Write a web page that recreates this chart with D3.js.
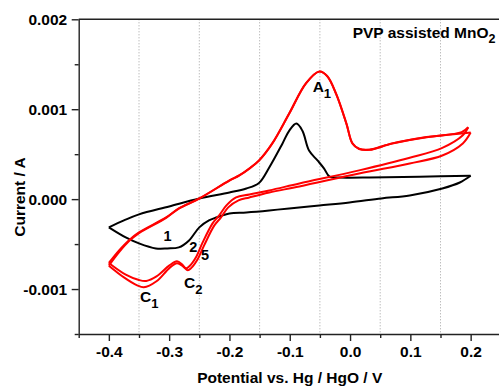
<!DOCTYPE html>
<html>
<head>
<meta charset="utf-8">
<script src="https://cdn.jsdelivr.net/npm/d3@7/dist/d3.min.js"></script>
<style>
  html, body { margin: 0; padding: 0; background: #fff; }
  svg { display: block; }
  text { font-family: "Liberation Sans", Arial, Helvetica, sans-serif; font-weight: bold; fill: #000; }
</style>
</head>
<body>
<svg id="chart" width="499" height="387"></svg>
<script>
// ---------- data ----------
const potentialTicks = [-0.4, -0.3, -0.2, -0.1, 0.0, 0.1, 0.2];
const potentialMinorTicks = [-0.45, -0.35, -0.25, -0.15, -0.05, 0.05, 0.15, 0.25];
const gridPotentials = [-0.35, -0.25, -0.15, -0.05, 0.05, 0.15];
const currentTicks = [-0.001, 0.000, 0.001, 0.002];
const currentMinorTicks = [-0.0015, -0.0005, 0.0005, 0.0015];

// Cycle 1 (black)
const cycle1AnodicE = [-0.400, -0.375, -0.350, -0.300, -0.250, -0.200, -0.172, -0.151, -0.134, -0.112, -0.101, -0.089, -0.079, -0.068, -0.054, -0.043, -0.034, -0.018, 0.032, 0.115, 0.200];
const cycle1AnodicI = [-0.000314, -0.000237, -0.000170, -0.000081, 0.000008, 0.000074, 0.000119, 0.000180, 0.000352, 0.000619, 0.000760, 0.000840, 0.000760, 0.000540, 0.000430, 0.000340, 0.000250, 0.000240, 0.000240, 0.000250, 0.000260];
const cycle1CathodicE = [0.200, 0.182, 0.153, 0.099, 0.052, -0.001, -0.051, -0.101, -0.134, -0.172, -0.200, -0.222, -0.234, -0.250, -0.267, -0.284, -0.303, -0.322, -0.350, -0.372, -0.400];
const cycle1CathodicI = [0.000260, 0.000185, 0.000119, 0.000041, 0.000008, -0.000037, -0.000070, -0.000103, -0.000126, -0.000148, -0.000159, -0.000205, -0.000237, -0.000314, -0.000459, -0.000537, -0.000548, -0.000548, -0.000492, -0.000426, -0.000314];

// Cycle 2 (red)
const cycle2AnodicE = [-0.400, -0.383, -0.367, -0.350, -0.305, -0.284, -0.250, -0.200, -0.184, -0.167, -0.151, -0.129, -0.101, -0.073, -0.051, -0.038, -0.023, -0.006, 0.004, 0.015, 0.032, 0.070, 0.127, 0.185, 0.196];
const cycle2AnodicI = [-0.000710, -0.000570, -0.000459, -0.000370, -0.000203, -0.000103, 0.000008, 0.000208, 0.000263, 0.000341, 0.000430, 0.000620, 0.000952, 0.001290, 0.001420, 0.001370, 0.001170, 0.000840, 0.000620, 0.000560, 0.000550, 0.000620, 0.000690, 0.000745, 0.000800];
const cycle2CathodicE = [0.196, 0.187, 0.153, 0.099, 0.015, -0.084, -0.134, -0.167, -0.189, -0.205, -0.217, -0.228, -0.245, -0.255, -0.267, -0.272, -0.278, -0.287, -0.300, -0.321, -0.338, -0.350, -0.372, -0.400];
const cycle2CathodicI = [0.000800, 0.000710, 0.000570, 0.000460, 0.000320, 0.000174, 0.000097, 0.000052, 0.000019, -0.000070, -0.000180, -0.000270, -0.000490, -0.000640, -0.000750, -0.000770, -0.000730, -0.000690, -0.000740, -0.000860, -0.000910, -0.000900, -0.000840, -0.000710];

// Cycle 5 (red)
const cycle5AnodicE = [-0.400, -0.383, -0.367, -0.350, -0.305, -0.284, -0.250, -0.200, -0.184, -0.167, -0.151, -0.129, -0.101, -0.073, -0.051, -0.038, -0.023, -0.006, 0.004, 0.015, 0.032, 0.070, 0.127, 0.193, 0.200];
const cycle5AnodicI = [-0.000740, -0.000590, -0.000470, -0.000378, -0.000208, -0.000106, 0.000006, 0.000206, 0.000261, 0.000339, 0.000428, 0.000618, 0.000950, 0.001288, 0.001418, 0.001368, 0.001168, 0.000838, 0.000618, 0.000558, 0.000548, 0.000618, 0.000688, 0.000735, 0.000740];
const cycle5CathodicE = [0.200, 0.187, 0.153, 0.099, 0.015, -0.084, -0.134, -0.167, -0.185, -0.202, -0.214, -0.225, -0.242, -0.252, -0.264, -0.269, -0.277, -0.287, -0.300, -0.321, -0.342, -0.353, -0.375, -0.400];
const cycle5CathodicI = [0.000740, 0.000619, 0.000485, 0.000397, 0.000286, 0.000141, 0.000074, 0.000019, -0.000014, -0.000092, -0.000203, -0.000292, -0.000514, -0.000659, -0.000770, -0.000792, -0.000748, -0.000714, -0.000770, -0.000914, -0.000981, -0.000959, -0.000870, -0.000740];

const seriesColors = { cycle1: "#000000", cycle2: "#ff0000", cycle5: "#ff0000" };

// ---------- layout ----------
const svg = d3.select("#chart");
const x = d3.scaleLinear().domain([-0.45, 0.25]).range([78.7, 500.8]);
const y = d3.scaleLinear().domain([-0.0015, 0.002]).range([334, 19.3]);
const axisColor = "#222";

// grid
svg.append("g").selectAll("line").data(gridPotentials).join("line")
  .attr("x1", d => x(d)).attr("x2", d => x(d))
  .attr("y1", y(0.002)).attr("y2", y(-0.0015))
  .attr("stroke", "#8a8a8a").attr("stroke-width", 0.8).attr("stroke-dasharray", "1,2");

// curves
const line = d3.line().x(d => x(d[0])).y(d => y(d[1])).curve(d3.curveCatmullRom.alpha(0.5));
const zip = (a, b) => a.map((v, i) => [v, b[i]]);
const sweeps = [
  { key: "cycle1", pts: zip(cycle1AnodicE, cycle1AnodicI) },
  { key: "cycle1", pts: zip(cycle1CathodicE, cycle1CathodicI) },
  { key: "cycle2", pts: zip(cycle2AnodicE, cycle2AnodicI) },
  { key: "cycle2", pts: zip(cycle2CathodicE, cycle2CathodicI) },
  { key: "cycle5", pts: zip(cycle5AnodicE, cycle5AnodicI) },
  { key: "cycle5", pts: zip(cycle5CathodicE, cycle5CathodicI) }
];
svg.append("g").selectAll("path").data(sweeps).join("path")
  .attr("d", d => line(d.pts))
  .attr("fill", "none")
  .attr("stroke", d => seriesColors[d.key])
  .attr("stroke-width", 2)
  .attr("stroke-linejoin", "round");

// axes
const fmtX = d => d.toFixed(1);
const fmtY = d => d.toFixed(3);
function styleAxis(g) {
  g.selectAll("path, line").attr("stroke", axisColor).attr("stroke-width", 1.4);
  g.selectAll("text").attr("font-size", "15.5px").attr("font-weight", "bold")
    .attr("font-family", "Liberation Sans, Arial, sans-serif").attr("fill", "#000");
}
svg.append("g").attr("transform", `translate(0,${y(-0.0015)})`)
  .call(d3.axisBottom(x).tickValues(potentialTicks).tickFormat(fmtX).tickSize(7).tickPadding(5).tickSizeOuter(0))
  .call(styleAxis);
svg.append("g").attr("transform", `translate(0,${y(-0.0015)})`)
  .call(d3.axisBottom(x).tickValues(potentialMinorTicks).tickFormat("").tickSize(4).tickSizeOuter(0))
  .call(g => g.select(".domain").remove())
  .call(styleAxis);
svg.append("g").attr("transform", `translate(${x(-0.45)},0)`)
  .call(d3.axisLeft(y).tickValues(currentTicks).tickFormat(fmtY).tickSize(7).tickPadding(4.5).tickSizeOuter(0))
  .call(styleAxis);
svg.append("g").attr("transform", `translate(${x(-0.45)},0)`)
  .call(d3.axisLeft(y).tickValues(currentMinorTicks).tickFormat("").tickSize(4).tickSizeOuter(0))
  .call(g => g.select(".domain").remove())
  .call(styleAxis);
// top frame line
svg.append("line").attr("x1", x(-0.45)).attr("x2", x(0.25))
  .attr("y1", y(0.002)).attr("y2", y(0.002))
  .attr("stroke", axisColor).attr("stroke-width", 1.4);

// axis titles
svg.append("text").attr("x", (x(-0.45) + x(0.25)) / 2).attr("y", 383)
  .attr("text-anchor", "middle").attr("font-size", "15.5px")
  .text("Potential vs. Hg / HgO / V");
svg.append("text").attr("transform", "translate(25,197) rotate(-90)")
  .attr("text-anchor", "middle").attr("font-size", "15.5px")
  .text("Current / A");

// title
const title = svg.append("text").attr("x", 352.7).attr("y", 38.3).attr("font-size", "15.5px");
title.append("tspan").text("PVP assisted MnO");
title.append("tspan").attr("font-size", "12.5px").attr("dy", 5).text("2");

// annotations
const annotations = [
  { main: "A", sub: "1", E: -0.062, I: 0.00119, size: 15.5, anchor: "start" },
  { main: "C", sub: "1", E: -0.3483, I: -0.001141, size: 15.5, anchor: "start" },
  { main: "C", sub: "2", E: -0.2754, I: -0.000989, size: 15.5, anchor: "start" },
  { main: "1", sub: "", E: -0.3027, I: -0.000463, size: 14.5, anchor: "middle" },
  { main: "2", sub: "", E: -0.2600, I: -0.000585, size: 14.5, anchor: "middle" },
  { main: "5", sub: "", E: -0.2405, I: -0.000677, size: 14.5, anchor: "middle" }
];
annotations.forEach(a => {
  const t = svg.append("text").attr("x", x(a.E)).attr("y", y(a.I))
    .attr("font-size", a.size + "px").attr("text-anchor", a.anchor);
  t.append("tspan").text(a.main);
  if (a.sub) t.append("tspan").attr("font-size", "13px").attr("dy", 6).text(a.sub);
});
</script>
</body>
</html>
